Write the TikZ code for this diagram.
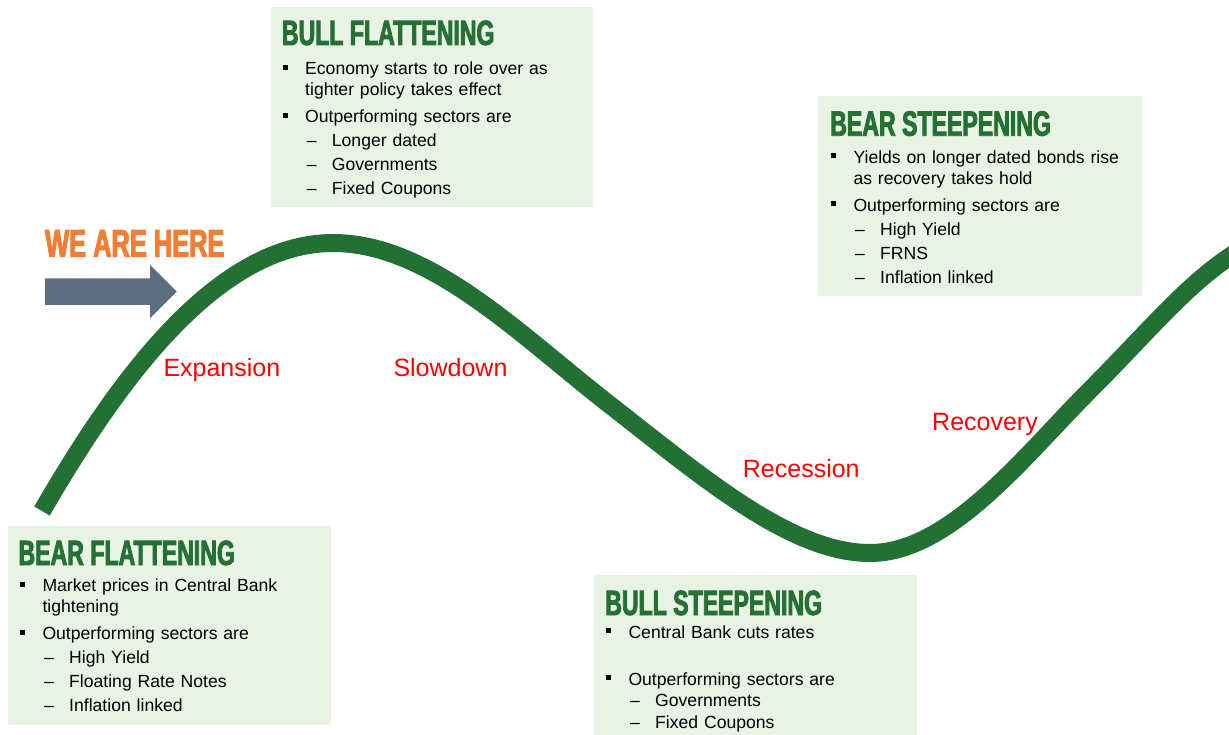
\documentclass[tikz,border=0pt]{standalone}
\usepackage{fontspec}
\setmainfont{Liberation Sans}
\newfontfamily\headfont[FakeStretch=0.66,FakeBold=2.5]{Liberation Sans Bold}
\usetikzlibrary{positioning}

\definecolor{curvegreen}{RGB}{35,112,53}
\definecolor{headgreen}{RGB}{38,112,52}
\definecolor{panelgreen}{RGB}{232,243,230}
\definecolor{arrowgrey}{RGB}{92,110,128}
\definecolor{hereorange}{RGB}{245,125,50}

% bullet, continuation and dash for the panel lists
\newcommand{\blt}{\hspace*{1pt}\makebox[22.3pt][l]{\rule[5pt]{5pt}{5pt}}}
\newcommand{\cont}{\hspace*{23.3pt}}
\newcommand{\dsh}{\hspace*{25pt}\makebox[25pt][l]{--}}

\tikzset{
  panel/.style={fill=panelgreen, inner sep=0pt, anchor=north west},
  head/.style={font=\headfont\fontsize{35}{35}\selectfont, text=headgreen, anchor=base west, inner sep=0pt},
  body/.style={font=\fontsize{17.6}{21}\selectfont, text width=300pt, align=left, anchor=base west, inner sep=0pt},
  stage/.style={font=\fontsize{25}{25}\selectfont, text=red, anchor=base west, inner sep=0pt},
  curve/.style={draw=curvegreen, line width=18pt}
}

\begin{document}
\begin{tikzpicture}[x=1pt, y=-1pt]
  \useasboundingbox (0,0) rectangle (1229,735);

  % the four shaded panels
  \node[panel, minimum width=322pt, minimum height=200pt] (bullflat) at (271,7) {};
  \node[panel, minimum width=324pt, minimum height=200pt] (bearsteep) at (818,96) {};
  \node[panel, minimum width=323pt, minimum height=199pt] (bearflat) at (7.5,526) {};
  \node[panel, minimum width=323pt, minimum height=160pt] (bullsteep) at (593.5,575) {};

  % the cycle
  \draw[curve] (42,511) .. controls (115,385) and (215,243) .. (333,243)
    .. controls (430,243) and (520,335) .. (610,405)
    .. controls (700,475) and (790,553) .. (870,553)
    .. controls (950,553) and (1025,455) .. (1090,390)
    .. controls (1150,330) and (1190,280) .. (1240,250);

  % headings
  \node[head] (bullflat head) at (281.7,45) {BULL FLATTENING};
  \node[head] (bearsteep head) at (830,135.7) {BEAR STEEPENING};
  \node[head] (bearflat head) at (18.3,565) {BEAR FLATTENING};
  \node[head] (bullsteep head) at (605,615) {BULL STEEPENING};

  % panel texts
  \node[body] (bullflat txt) at (281.7,75) {%
    \blt Economy starts to role over as\\
    \cont tighter policy takes effect\\[6pt]
    \blt Outperforming sectors are\\[3pt]
    \dsh Longer dated\\[3pt]
    \dsh Governments\\[3pt]
    \dsh Fixed Coupons};
  \node[body] (bearsteep txt) at (830,163.3) {%
    \blt Yields on longer dated bonds rise\\
    \cont as recovery takes hold\\[6pt]
    \blt Outperforming sectors are\\[3pt]
    \dsh High Yield\\[3pt]
    \dsh FRNS\\[3pt]
    \dsh Inflation linked};
  \node[body] (bearflat txt) at (19,591.7) {%
    \blt Market prices in Central Bank\\
    \cont tightening\\[6pt]
    \blt Outperforming sectors are\\[3pt]
    \dsh High Yield\\[3pt]
    \dsh Floating Rate Notes\\[3pt]
    \dsh Inflation linked};
  \node[body] (bullsteep txt) at (605,638.3) {%
    \blt Central Bank cuts rates\\[25.7pt]
    \blt Outperforming sectors are\\
    \dsh Governments\\[1pt]
    \dsh Fixed Coupons};

  % stages along the curve
  \foreach \x/\y/\name in {163.3/376.7/Expansion, 393.3/376.7/Slowdown,
      742.7/477.3/Recession, 932/430/Recovery}
    \node[stage] (stage \name) at (\x,\y) {\name};

  % marker
  \node[head, text=hereorange, font=\headfont\fontsize{38.5}{38.5}\selectfont] (here) at (45,256.7) {WE ARE HERE};
  \fill[arrowgrey] (45,278.3) -- (150,278.3) -- (150,265) -- (176.7,291.7)
    -- (150,318.3) -- (150,305) -- (45,305) -- cycle;
\end{tikzpicture}
\end{document}
